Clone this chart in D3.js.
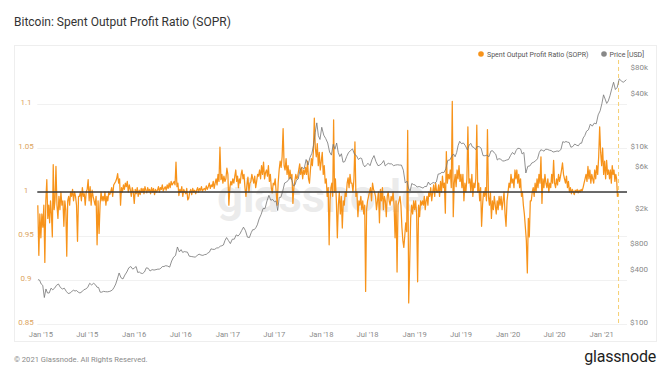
<!DOCTYPE html>
<html><head><meta charset="utf-8">
<script src="https://cdn.jsdelivr.net/npm/d3@7"></script>
<style>
body{margin:0;background:#fff;}
svg{display:block;font-family:Roboto,"Noto Sans",sans-serif;}
</style>
</head><body>
<svg id="c" width="670" height="377"></svg>
<script>
const chartTitle = "Bitcoin: Spent Output Profit Ratio (SOPR)";
const seriesNames = ["Spent Output Profit Ratio (SOPR)", "Price [USD]"];
const footerText = "© 2021 Glassnode. All Rights Reserved.";
const brandText = "glassnode";

// months of data, starting Dec 2014 (values spread evenly inside each month)
const firstMonth = [2014, 11];
const soprStart = "2014-12-20", soprEnd = "2021-03-10";
const priceStart = "2014-12-20", priceEnd = "2021-04-12";
const xDomain = ["2014-12-20", "2021-04-12"];
const markerDate = "2021-03-10";

const soprMonthly = [
 [0.985,0.928,0.975],
 [0.948,0.975,0.96,0.985,0.92,0.99,1.014,0.97],
 [0.985,0.965,0.99,0.975,0.949,1.031,0.98,0.99],
 [1.029,0.985,0.97,0.995,0.98,1.0,0.985,0.99],
 [0.961,0.99,0.98,0.927,0.99,0.995,0.985,1.0],
 [0.995,1.003,0.99,1.0,0.995,0.985,0.944,0.995],
 [0.995,1.0,0.99,1.005,0.995,0.998,0.985,1.0],
 [1.003,1.014,0.99,1.006,0.985,1.002,0.995,0.99],
 [0.985,0.995,0.94,0.99,0.953,0.985,1.0,0.99],
 [0.995,0.99,1.0,0.985,0.995,0.99,1.0,0.997],
 [1.0,1.005,0.995,1.008,1.01,1.012,1.015,1.021],
 [1.01,1.015,0.985,1.005,1.0,1.008,1.003,1.01],
 [1.006,1.012,1.0,1.008,1.003,0.995,1.005,1.0],
 [0.987,1.003,0.998,1.005,0.995,1.002,0.997,1.004],
 [1.0,1.004,0.998,1.006,1.002,0.999,1.005,1.001],
 [1.003,0.998,1.005,1.0,1.004,0.997,1.003,1.0],
 [1.002,1.006,1.0,1.005,1.003,1.008,1.001,1.004],
 [1.006,1.002,1.008,1.004,1.01,1.005,1.012,1.008],
 [1.01,1.012,1.008,1.034,1.006,1.01,0.996,1.003],
 [1.0,1.006,0.995,1.003,1.0,0.998,1.004,0.991],
 [0.993,1.0,1.003,0.997,1.004,1.0,1.002,0.998],
 [1.002,1.005,1.0,1.004,1.002,1.006,1.001,1.003],
 [1.004,1.002,1.007,1.003,1.006,1.01,1.004,1.008],
 [1.006,1.012,1.004,1.01,1.015,1.008,1.02,1.012],
 [1.051,1.014,1.02,1.01,1.018,1.012,1.015,1.027],
 [1.02,0.985,1.005,1.012,1.008,1.015,1.01,1.018],
 [1.025,1.012,1.018,1.005,1.015,1.01,1.02,1.025],
 [1.015,1.02,1.005,0.995,1.008,1.017,1.0,1.01],
 [1.012,1.02,1.015,1.01,1.018,1.005,1.012,1.02],
 [1.018,1.025,1.015,1.03,1.02,1.034,1.015,1.022],
 [1.025,1.018,1.03,1.012,1.02,1.005,0.999,1.01],
 [1.008,1.015,1.0,0.985,1.01,1.025,1.035,1.028],
 [1.04,1.072,1.03,1.025,1.038,1.02,1.03,1.015],
 [1.025,1.015,1.02,0.987,1.005,1.012,1.02,1.015],
 [1.018,1.025,1.032,1.02,1.028,1.015,1.025,1.02],
 [1.028,1.02,1.035,1.015,1.01,1.025,1.038,1.03],
 [1.045,1.084,1.05,1.04,1.055,1.03,1.045,1.025],
 [1.035,1.045,1.02,1.03,1.01,1.015,0.995,1.005],
 [0.94,0.99,1.005,1.01,0.995,1.082,1.0,1.015],
 [0.99,0.948,0.985,1.0,0.975,0.995,0.959,0.99],
 [0.985,1.0,0.995,1.01,1.016,1.005,1.02,1.01],
 [1.01,1.0,1.015,1.057,0.995,1.0,0.972,0.99],
 [0.985,0.995,0.98,0.99,0.975,0.985,0.887,0.98],
 [0.99,0.995,1.0,1.005,0.99,1.01,1.003,1.0],
 [0.995,0.98,0.99,1.0,0.965,1.003,0.99,1.005],
 [0.98,0.995,0.99,0.972,0.995,1.0,0.99,0.985],
 [0.995,0.99,1.0,0.985,0.948,0.99,0.909,0.985],
 [0.99,0.995,0.985,0.96,0.945,0.937,0.95,0.965],
 [0.955,1.07,0.874,0.919,0.97,0.985,0.975,0.99],
 [0.98,0.99,0.975,0.898,0.985,0.972,0.99,0.985],
 [0.99,0.985,0.995,0.98,0.99,0.995,0.985,1.0],
 [0.995,1.005,0.99,1.0,1.008,0.995,1.01,1.0],
 [1.0,1.008,0.995,1.012,1.0,1.018,1.005,1.01],
 [0.976,1.046,1.01,1.02,1.015,1.025,1.005,1.103],
 [0.972,1.01,1.02,1.006,1.025,1.015,1.03,1.012],
 [1.02,1.005,1.02,0.99,1.01,1.0,1.015,1.074],
 [1.01,1.015,1.0,1.02,0.995,1.01,1.005,1.015],
 [1.076,1.0,1.01,0.99,1.005,0.961,0.985,1.0],
 [0.995,1.005,0.99,1.071,0.995,0.985,1.0,0.97],
 [0.99,0.98,0.995,0.985,0.975,0.99,0.98,0.995],
 [0.985,0.995,0.98,0.99,1.0,0.975,0.961,0.99],
 [1.0,1.01,1.005,1.02,1.01,1.015,1.005,1.025],
 [1.015,1.025,1.01,1.02,1.005,1.015,0.995,1.0],
 [0.985,0.975,0.96,0.945,0.908,0.97,0.949,0.99],
 [0.99,1.0,1.005,0.995,1.01,1.0,1.015,1.005],
 [1.02,1.01,1.04,0.987,1.015,1.005,1.02,1.01],
 [1.005,1.015,1.0,1.01,1.005,1.02,1.01,1.036],
 [1.01,1.005,1.015,1.008,1.02,1.012,1.018,1.025],
 [1.033,1.02,1.015,1.01,1.018,1.005,1.012,1.0],
 [1.005,0.998,1.003,1.0,0.997,1.002,1.0,1.003],
 [0.999,1.002,1.0,1.003,1.001,1.005,1.01,1.015],
 [1.02,1.012,1.029,1.015,1.025,1.01,1.02,1.015],
 [1.01,1.025,1.015,1.03,1.02,1.04,1.074,1.045],
 [1.03,1.05,1.02,1.035,1.015,1.036,1.02,1.025],
 [1.015,1.025,1.01,1.03,1.02,1.025,1.012,1.02],
 [1.015,0.995,0.998]
];

const priceMonthly = [
 [320,315],
 [285,275,200,250,225],[225,255,245,255],[275,285,260,250],[255,235,222,225],
 [235,242,237,240,230],[225,232,245,250],[260,290,278,290],[280,262,260,230,230],
 [235,233,232,234],[238,245,262,285,325],[380,335,325,360],[390,435,450,420],
 [435,450,385,390,378],[375,390,435,430],[400,415,410,415],[420,420,430,450,450],
 [460,455,443,520],[575,600,750,660],[700,650,665,660,655],[590,585,580,575],
 [600,622,608,602],[615,618,640,655,715],[705,705,730,735],[765,775,790,890,960],
 [890,820,920,920],[1030,1000,1050,1150],[1260,1150,970,960],[1090,1180,1180,1240,1340],
 [1560,1750,2050,2050],[2500,2900,2550,2600],[2450,2500,1950,2750,2750],[3200,4000,4100,4350],
 [4700,4300,3700,3800,4300],[4450,5700,6000,5800],[7400,6400,7800,8700],[10900,15000,19300,13800,12500],
 [17200,14000,12800,11400],[9000,8300,11000,9700],[11400,8900,8000,8600,6900],[7000,8000,8900,9300],
 [9800,8500,8200,7400],[7700,7600,6500,6100,6400],[6700,6300,7400,8200],[7000,6300,6400,6700],
 [7200,6250,6500,6700,6600],[6600,6300,6400,6450],[6400,6400,5600,4000],[4200,3450,3250,3950,3850],
 [3800,3600,3650,3580],[3500,3650,3650,4100],[3820,3950,4050,4000,4120],[5050,5100,5300,5250],
 [5800,7250,7300,8050],[8550,7950,8850,10700,11900],[11200,11400,10600,9500],[10800,11300,10300,10150,9600],
 [10400,10350,9950,8200],[8150,8300,7950,9250],[9300,8800,8500,7300,7550],[7500,7100,7150,7300],
 [7400,8200,8900,8450],[9400,9900,9900,9700,8550],[8900,5200,6200,6250],[6750,6900,7150,7550],
 [8900,9550,9400,9200,9700],[9650,9450,9350,9000],[9100,9250,9150,9700],[11800,11600,11850,11650,11550],
 [10200,10400,11100,10750],[10600,11300,11350,13000,13800],[15500,16100,18700,17700],[19150,18800,23800,26500],
 [32200,40200,36000,32100,34300],[39300,47200,55900,46200],[48900,61000,58000,55800],[57600,59800]
];

const soprTicks = [0.85, 0.9, 0.95, 1, 1.05, 1.1];
const soprTickLabels = ["0.85","0.9","0.95","1","1.05","1.1"];
const priceTicks = [100, 400, 800, 2000, 6000, 10000, 40000, 80000];
const priceTickLabels = ["$100","$400","$800","$2k","$6k","$10k","$40k","$80k"];
const xTickDates = ["2015-01-01","2015-07-01","2016-01-01","2016-07-01","2017-01-01","2017-07-01","2018-01-01","2018-07-01","2019-01-01","2019-07-01","2020-01-01","2020-07-01","2021-01-01"];
const xTickLabels = ["Jan '15","Jul '15","Jan '16","Jul '16","Jan '17","Jul '17","Jan '18","Jul '18","Jan '19","Jul '19","Jan '20","Jul '20","Jan '21"];

const C = {orange:"#f7931a", price:"#757575", one:"#3a3a3a", leftTick:"#dca45e", tick:"#8a8a8a"};

const pd = d3.timeParse("%Y-%m-%d");
function expand(groups, start, end){
  const s = pd(start), e = pd(end), out = [];
  groups.forEach((vals, g) => {
    let d0 = new Date(firstMonth[0], firstMonth[1] + g, 1);
    let d1 = new Date(firstMonth[0], firstMonth[1] + g + 1, 1);
    if (d0 < s) d0 = s;
    if (d1 > e) d1 = e;
    vals.forEach((v, j) => {
      out.push({date: new Date(+d0 + (j + 0.5) / vals.length * (d1 - d0)), value: v});
    });
  });
  return out;
}
const sopr = expand(soprMonthly, soprStart, soprEnd);
const price = expand(priceMonthly, priceStart, priceEnd);

const svg = d3.select("#c");
const L = 37.3, R = 627, T = 60, B = 324;
const x = d3.scaleTime().domain(xDomain.map(pd)).range([L, R]);
const yL = d3.scaleLinear().domain([0.85, 1.15]).range([B, T]);
const yR = d3.scaleLog().domain([100, 100000]).range([B, T]);

// title
svg.append("text").attr("x", 14).attr("y", 26).attr("font-size", 12).attr("fill", "#333").text(chartTitle);
// panel frame
svg.append("rect").attr("x", 14.5).attr("y", 45.5).attr("width", 642).attr("height", 296)
  .attr("fill", "none").attr("stroke", "#eeeeee");

// grid
svg.append("g").selectAll("line").data(soprTicks).join("line")
  .attr("x1", L).attr("x2", R).attr("y1", d => Math.round(yL(d)) + 0.5).attr("y2", d => Math.round(yL(d)) + 0.5)
  .attr("stroke", "#f1f1f1");

// watermark
svg.append("text").attr("x", 321).attr("y", 212).attr("text-anchor", "middle")
  .attr("font-size", 46).attr("font-weight", 600).attr("fill", "#ebebeb").attr("letter-spacing", -0.5).text(brandText);

// left axis
const ga = svg.append("g").attr("transform", "translate(26,0)")
  .call(d3.axisLeft(yL).tickValues(soprTicks).tickFormat((d, i) => soprTickLabels[i]).tickSize(0).tickPadding(0));
ga.select(".domain").remove();
ga.selectAll("text").attr("text-anchor", "middle").attr("dy", "0.05em").attr("fill", C.leftTick)
  .attr("font-size", 8).attr("font-family", "Roboto,sans-serif");

// right axis
const gr = svg.append("g").attr("transform", "translate(648,0)")
  .call(d3.axisRight(yR).tickValues(priceTicks).tickFormat((d, i) => priceTickLabels[i]).tickSize(0).tickPadding(0));
gr.select(".domain").remove();
gr.selectAll("text").attr("text-anchor", "end").attr("dy", "0.1em").attr("fill", C.tick)
  .attr("font-size", 8).attr("font-family", "Roboto,sans-serif");

// x axis
const gx = svg.append("g").attr("transform", `translate(0,${B})`)
  .call(d3.axisBottom(x).tickValues(xTickDates.map(pd)).tickFormat((d, i) => xTickLabels[i]).tickSize(0).tickPadding(8));
gx.select(".domain").remove();
gx.selectAll("text").attr("fill", C.tick).attr("font-size", 7.6).attr("font-family", "Roboto,sans-serif");

// marker dashed line
svg.append("line").attr("x1", x(pd(markerDate))).attr("x2", x(pd(markerDate))).attr("y1", T).attr("y2", B)
  .attr("stroke", "#f6cf72").attr("stroke-width", 1).attr("stroke-dasharray", "4,3");

// SOPR line
svg.append("path").datum(sopr).attr("fill", "none").attr("stroke", C.orange).attr("stroke-width", 1.25)
  .attr("stroke-linejoin", "round")
  .attr("d", d3.line().x(d => x(d.date)).y(d => yL(d.value)));

// price line
svg.append("path").datum(price).attr("fill", "none").attr("stroke", C.price).attr("stroke-width", 0.8)
  .attr("d", d3.line().x(d => x(d.date)).y(d => yR(d.value)));

// reference line at 1
svg.append("line").attr("x1", L).attr("x2", R).attr("y1", yL(1)).attr("y2", yL(1))
  .attr("stroke", C.one).attr("stroke-width", 1.5);

// legend
const lg = svg.append("g").attr("font-size", 7).attr("fill", "#555");
lg.append("circle").attr("cx", 481).attr("cy", 54).attr("r", 2.8).attr("fill", C.orange);
lg.append("text").attr("x", 487).attr("y", 56.5).text(seriesNames[0]);
lg.append("circle").attr("cx", 604).attr("cy", 54).attr("r", 2.8).attr("fill", "#888");
lg.append("text").attr("x", 609.5).attr("y", 56.5).text(seriesNames[1]);

// footer
svg.append("text").attr("x", 14).attr("y", 362).attr("font-size", 7.6).attr("fill", "#8a8a8a").text(footerText);
svg.append("text").attr("x", 656).attr("y", 362).attr("text-anchor", "end").attr("font-size", 16)
  .attr("font-weight", 400).attr("fill", "#1e1e1e").attr("letter-spacing", -0.2).text(brandText);
</script>
</body></html>
